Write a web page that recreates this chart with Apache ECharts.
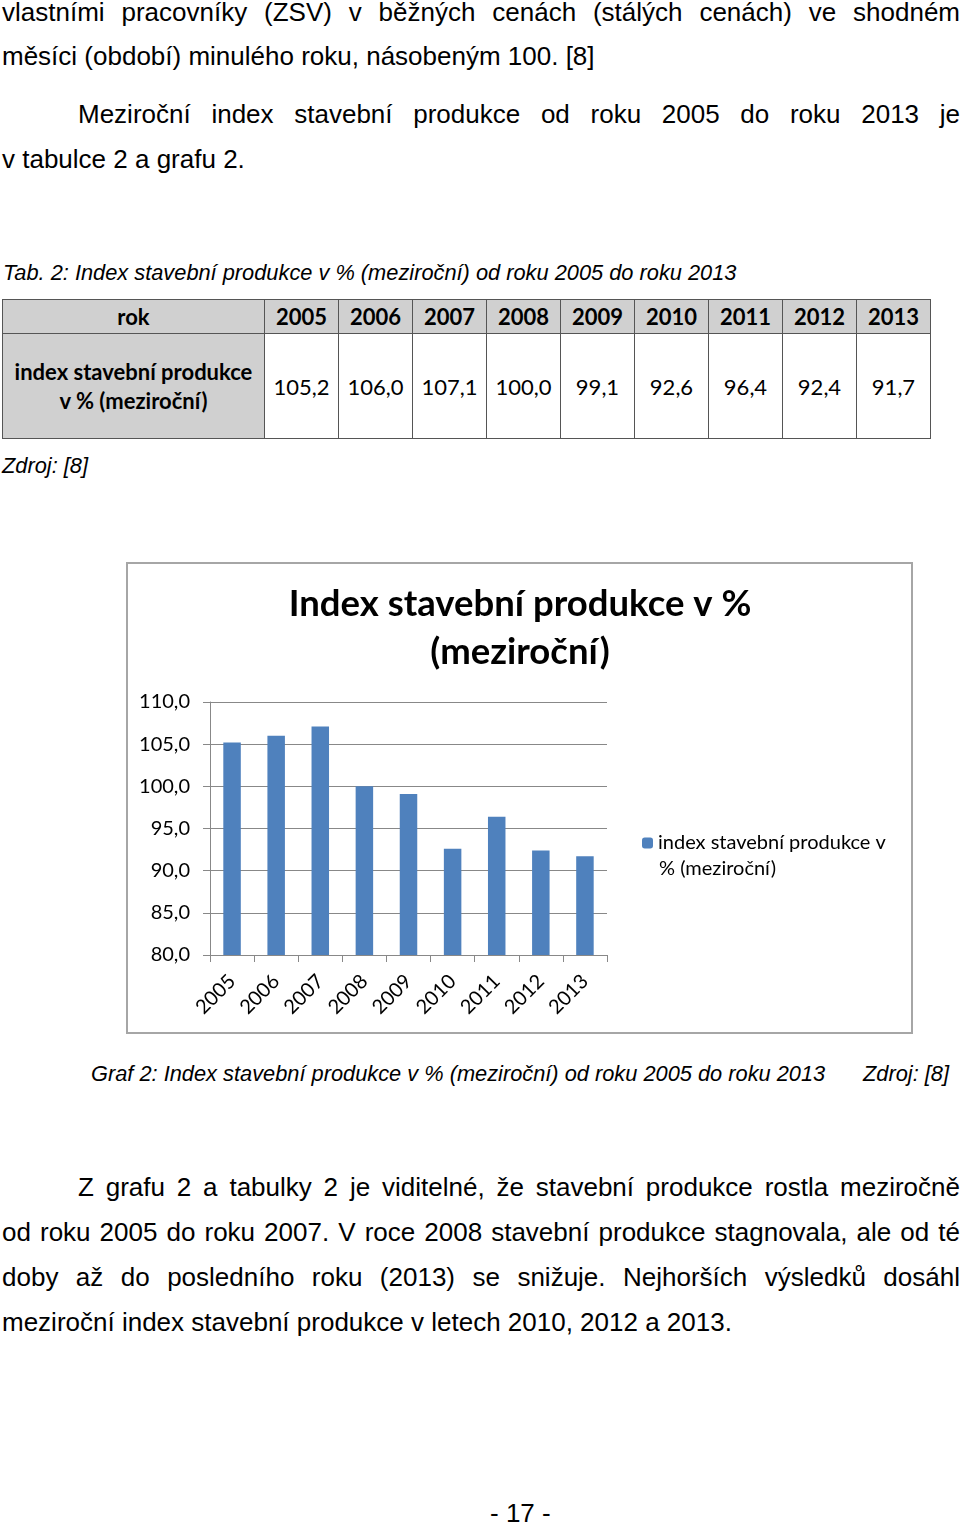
<!DOCTYPE html>
<html><head><meta charset="utf-8">
<script src="https://cdn.jsdelivr.net/npm/echarts@6/dist/echarts.min.js"></script>
<style>
html,body{margin:0;padding:0;background:#fff;}
body{width:960px;height:1526px;position:relative;overflow:hidden;font-family:"Liberation Sans",Arial,sans-serif;color:#000;}
.ln{position:absolute;left:2px;width:958px;font-size:26px;line-height:30px;white-space:nowrap;}
.j{text-align:justify;text-align-last:justify;white-space:normal;}
.it{font-style:italic;font-size:21.8px;line-height:26px;position:absolute;white-space:nowrap;}
table{position:absolute;left:2px;top:299px;border-collapse:collapse;font-family:Lato,"Open Sans",sans-serif;font-size:22px;}
td{border:1.5px solid #555;text-align:center;padding:0;}
.h{background:#d0d0d0;font-weight:bold;}
#chart{position:absolute;left:126px;top:562px;width:787px;height:472px;box-sizing:border-box;border:2px solid #a6a6a6;}
</style></head><body>
<div class="ln j" style="top:-3px">vlastními pracovníky (ZSV) v běžných cenách (stálých cenách) ve shodném</div>
<div class="ln" style="top:41px">měsíci (období) minulého roku, násobeným 100. [8]</div>
<div class="ln j" style="top:99px;left:78px;width:882px">Meziroční index stavební produkce od roku 2005 do roku 2013 je</div>
<div class="ln" style="top:144px">v tabulce 2 a grafu 2.</div>
<div class="it" style="left:3px;top:260px">Tab. 2: Index stavební produkce v % (meziroční) od roku 2005 do roku 2013</div>
<table id="tab"></table>
<div class="it" style="left:2px;top:453px">Zdroj: [8]</div>
<div id="chart"></div>
<div class="it" style="left:91px;top:1061px">Graf 2: Index stavební produkce v % (meziroční) od roku 2005 do roku 2013</div>
<div class="it" style="left:863px;top:1061px">Zdroj: [8]</div>
<div class="ln j" style="top:1172px;left:78px;width:882px">Z grafu 2 a tabulky 2 je viditelné, že stavební produkce rostla meziročně</div>
<div class="ln j" style="top:1217px">od roku 2005 do roku 2007. V roce 2008 stavební produkce stagnovala, ale od té</div>
<div class="ln j" style="top:1262px">doby až do posledního roku (2013) se snižuje. Nejhorších výsledků dosáhl</div>
<div class="ln" style="top:1307px">meziroční index stavební produkce v letech 2010, 2012 a 2013.</div>
<div class="ln" style="top:1498px;left:490px;width:auto">- 17 -</div>
<script>
const years = ['2005','2006','2007','2008','2009','2010','2011','2012','2013'];
const values = [105.2,106.0,107.1,100.0,99.1,92.6,96.4,92.4,91.7];
const seriesName = 'index stavební produkce v % (meziroční)';
const legendLine1 = 'index stavební produkce v';
const legendLine2 = '% (meziroční)';
const chartTitle = 'Index stavební produkce v %\n(meziroční)';
const rowHead1 = 'rok';
const rowHead2 = 'index stavební produkce<br>v % (meziroční)';

const fmt = v => v.toFixed(1).replace('.', ',');
// table
const tab = document.getElementById('tab');
let r1 = '<tr style="height:34px"><td class="h" style="width:261px">'+rowHead1+'</td>' + years.map(y=>'<td class="h" style="width:73px">'+y+'</td>').join('') + '</tr>';
let r2 = '<tr style="height:105px"><td class="h" style="line-height:29px">'+rowHead2+'</td>' + values.map(v=>'<td>'+fmt(v)+'</td>').join('') + '</tr>';
tab.innerHTML = r1 + r2;

const chart = echarts.init(document.getElementById('chart'));
const F = 'Lato, "Open Sans", sans-serif';
chart.setOption({
  animation:false,
  textStyle:{fontFamily:F},
  title:{text:chartTitle,left:392,textAlign:'center',top:16,padding:0,textStyle:{fontFamily:F,fontSize:36.5,fontWeight:'bold',color:'#000',lineHeight:48}},
  legend:{left:514,top:266,padding:0,orient:'vertical',itemWidth:11,itemHeight:11,
    formatter: () => legendLine1,
    textStyle:{fontFamily:F,fontSize:20,color:'#000',lineHeight:26}},
  graphic:[{type:'text',left:531,top:295,style:{text:legendLine2,font:'20px '+F,fill:'#000'}}],
  grid:{left:82,right:304,top:138,bottom:77},
  xAxis:{type:'category',data:years,boundaryGap:true,
    axisLine:{lineStyle:{color:'#888',width:1}},
    axisTick:{show:true,alignWithLabel:false,length:7,lineStyle:{color:'#888'}},
    axisLabel:{rotate:45,fontFamily:F,fontSize:20,color:'#000',margin:23}},
  yAxis:{type:'value',min:80,max:110,interval:5,
    axisLine:{show:true,lineStyle:{color:'#888'}},
    axisTick:{show:true,length:7,lineStyle:{color:'#888'}},
    splitLine:{lineStyle:{color:'#888',width:1}},
    axisLabel:{formatter:v=>fmt(v),fontFamily:F,fontSize:20,color:'#000',margin:20}},
  series:[{name:seriesName,type:'bar',data:values,barWidth:17.5,itemStyle:{color:'#4f81bd'}}]
});
</script>
</body></html>
